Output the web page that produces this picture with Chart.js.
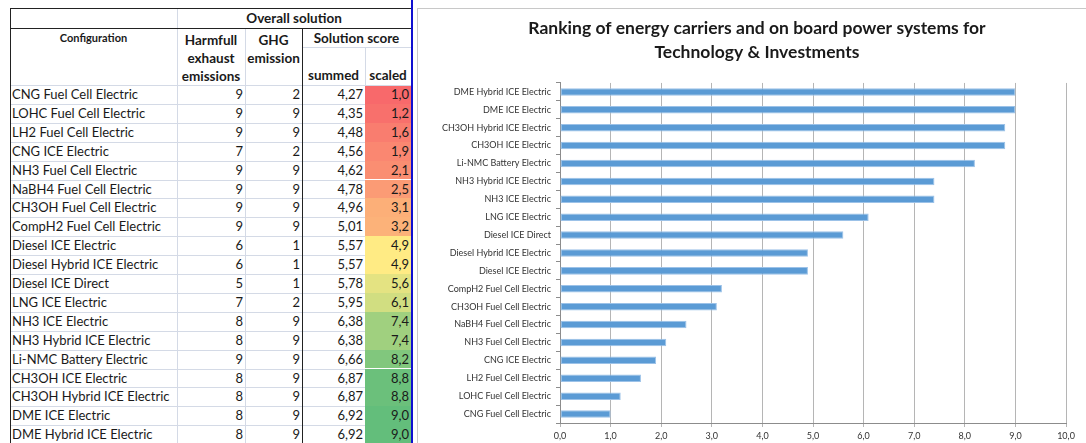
<!DOCTYPE html>
<html>
<head>
<meta charset="utf-8">
<script src="https://cdn.jsdelivr.net/npm/chart.js@4"></script>
<style>
    body { margin: 0; width: 1086px; height: 443px; overflow: hidden; background: #fff; font-family: Lato, "DejaVu Sans", sans-serif; color: #1a1a1a; }
    #sheet { position: absolute; left: 0; top: 0; width: 416px; height: 443px; }
    .cell { position: absolute; box-sizing: border-box; font-size: 13px; line-height: 19px; white-space: nowrap; overflow: hidden; }
    .num { text-align: right; padding-right: 2px; }
    .hd { font-weight: bold; text-align: center; font-size: 13.5px; }
    .ln { position: absolute; }
    #frame { position: absolute; left: 417px; top: 8px; width: 678px; height: 435px; border-left: 1px solid #c8c8c8; border-top: 1px solid #c8c8c8; }
    #chart { display: block; }
</style>
</head>
<body>
<div id="sheet"></div>
<div id="frame"><canvas id="chart" width="678" height="434"></canvas></div>
<script>
// Table data (top to bottom)
const configurations = [
    'CNG Fuel Cell Electric', 'LOHC Fuel Cell Electric', 'LH2 Fuel Cell Electric', 'CNG ICE Electric',
    'NH3 Fuel Cell Electric', 'NaBH4 Fuel Cell Electric', 'CH3OH Fuel Cell Electric', 'CompH2 Fuel Cell Electric',
    'Diesel ICE Electric', 'Diesel Hybrid ICE Electric', 'Diesel ICE Direct', 'LNG ICE Electric',
    'NH3 ICE Electric', 'NH3 Hybrid ICE Electric', 'Li-NMC Battery Electric', 'CH3OH ICE Electric',
    'CH3OH Hybrid ICE Electric', 'DME ICE Electric', 'DME Hybrid ICE Electric'
];
const harmful = [9, 9, 9, 7, 9, 9, 9, 9, 6, 6, 5, 7, 8, 8, 9, 8, 8, 8, 8];
const ghg = [2, 9, 9, 2, 9, 9, 9, 9, 1, 1, 1, 2, 9, 9, 9, 9, 9, 9, 9];
const summed = [4.27, 4.35, 4.48, 4.56, 4.62, 4.78, 4.96, 5.01, 5.57, 5.57, 5.78, 5.95, 6.38, 6.38, 6.66, 6.87, 6.87, 6.92, 6.92];
const scaled = [1.0, 1.2, 1.6, 1.9, 2.1, 2.5, 3.1, 3.2, 4.9, 4.9, 5.6, 6.1, 7.4, 7.4, 8.2, 8.8, 8.8, 9.0, 9.0];

const chartTitle = ['Ranking of energy carriers and on board power systems for', 'Technology & Investments'];
const xTicks = [0, 1, 2, 3, 4, 5, 6, 7, 8, 9, 10];

const comma = (v, d) => v.toFixed(d).replace('.', ',');

// Excel style 3-colour scale: red - yellow - green
function scaleColor(v) {
    const sorted = [...scaled].sort((a, b) => a - b);
    const lo = sorted[0], hi = sorted[sorted.length - 1];
    const mid = sorted[Math.floor(sorted.length / 2)];
    const red = [248, 105, 107], yel = [255, 235, 132], grn = [99, 190, 123];
    let a, b, t;
    if (v <= mid) { a = red; b = yel; t = (v - lo) / (mid - lo); }
    else { a = yel; b = grn; t = (v - mid) / (hi - mid); }
    const c = a.map((x, i) => Math.round(x + (b[i] - x) * t));
    return `rgb(${c.join(',')})`;
}

// Spreadsheet
const sheet = document.getElementById('sheet');
const cols = [10, 177, 245, 302, 365, 411];
const rowTop = 85, rowH = 18.9;
const light = '#d4dae6', dark = '#222';

function cell(x, y, w, h, text, cls, extra) {
    const d = document.createElement('div');
    d.className = 'cell ' + (cls || '');
    d.style.left = x + 'px'; d.style.top = y + 'px';
    d.style.width = w + 'px'; d.style.height = h + 'px';
    d.textContent = text;
    if (extra) Object.assign(d.style, extra);
    sheet.appendChild(d);
    return d;
}
function line(x, y, w, h, color) {
    const d = document.createElement('div');
    d.className = 'ln';
    d.style.left = x + 'px'; d.style.top = y + 'px';
    d.style.width = w + 'px'; d.style.height = h + 'px';
    d.style.background = color;
    sheet.appendChild(d);
}

configurations.forEach((name, i) => {
    const y = rowTop + i * rowH;
    cell(cols[0], y, cols[1] - cols[0], rowH, name, '', { paddingLeft: '2px' });
    cell(cols[1], y, cols[2] - cols[1], rowH, harmful[i], 'num');
    cell(cols[2], y, cols[3] - cols[2], rowH, ghg[i], 'num');
    cell(cols[3], y, cols[4] - cols[3], rowH, comma(summed[i], 2), 'num');
    cell(cols[4], y, cols[5] - cols[4], rowH, comma(scaled[i], 1), 'num', { background: scaleColor(scaled[i]) });
    line(cols[0], y + rowH, cols[4] - cols[0], 1, light);
});

// header
cell(cols[1], 9, cols[5] - cols[1], 19, 'Overall solution', 'hd');
cell(cols[0], 28, cols[1] - cols[0], 20, 'Configuration', 'hd', { fontSize: '11px' });
cell(cols[1], 31, cols[2] - cols[1], 54, '', 'hd', { lineHeight: '18px', whiteSpace: 'normal' }).innerHTML = 'Harmfull<br>exhaust<br>emissions';
cell(cols[2], 31, cols[3] - cols[2], 54, '', 'hd', { lineHeight: '18px', whiteSpace: 'normal' }).innerHTML = 'GHG<br>emission';
cell(cols[3], 29, cols[5] - cols[3], 19, 'Solution score', 'hd');
cell(cols[3], 66, cols[4] - cols[3], 19, 'summed', 'hd');
cell(cols[4], 66, cols[5] - cols[4], 19, 'scaled', 'hd');

// grid lines
line(cols[1], 8, 1, 435, light);
line(cols[2], 28, 1, 415, light);
line(cols[4], 47, 1, 38, light);
line(cols[3], 47, cols[5] - cols[3], 1, light);
line(cols[0], 85, cols[5] - cols[0], 1, light);
line(cols[0], 8, cols[5] - cols[0], 1, dark);
line(cols[0], 28, cols[5] - cols[0], 1, dark);
line(cols[0], 8, 1, 435, dark);
line(cols[3], 28, 1, 415, dark);
line(cols[5], 0, 2, 443, '#1010d0');

// Chart
const tickFont = { family: 'Lato', size: 9 };

// title spans the whole chart frame, not only the padded part
const fullWidthTitle = {
    id: 'fullWidthTitle',
    afterLayout(chart) {
        chart.titleBlock.left = 0;
        chart.titleBlock.right = chart.width;
        chart.titleBlock.width = chart.width;
    }
};

new Chart(document.getElementById('chart'), {
    type: 'bar',
    data: {
        labels: configurations,
        datasets: [{
            data: scaled,
            backgroundColor: '#5b9bd5',
            borderColor: '#9cc2e8',
            borderWidth: 1,
            borderSkipped: false,
            barPercentage: 0.42,
            categoryPercentage: 1
        }]
    },
    options: {
        indexAxis: 'y',
        responsive: false,
        animation: false,
        layout: { padding: { left: 0, right: 30, top: 0, bottom: 0 } },
        plugins: {
            legend: { display: false },
            tooltip: { enabled: false },
            title: {
                display: true,
                text: chartTitle,
                color: '#1a1a1a',
                font: { family: 'Lato', size: 17.5, weight: 'bold', lineHeight: 1.37 },
                padding: { top: 7, bottom: 19 }
            }
        },
        scales: {
            x: {
                min: 0,
                max: 10,
                afterBuildTicks: s => { s.ticks = xTicks.map(v => ({ value: v })); },
                ticks: { callback: v => comma(v, 1), font: tickFont, color: '#333', padding: 4 },
                grid: { color: '#b5b5b5', tickLength: 4 },
                border: { color: '#8c8c8c' },
                afterFit: s => { s.height = 20; }
            },
            y: {
                reverse: true,
                ticks: { font: tickFont, color: '#333', padding: 5, autoSkip: false },
                grid: { drawOnChartArea: false, tickLength: 4, color: '#8c8c8c' },
                border: { color: '#8c8c8c' },
                afterFit: s => { s.width = 142; }
            }
        }
    },
    plugins: [fullWidthTitle]
});
</script>
</body>
</html>
